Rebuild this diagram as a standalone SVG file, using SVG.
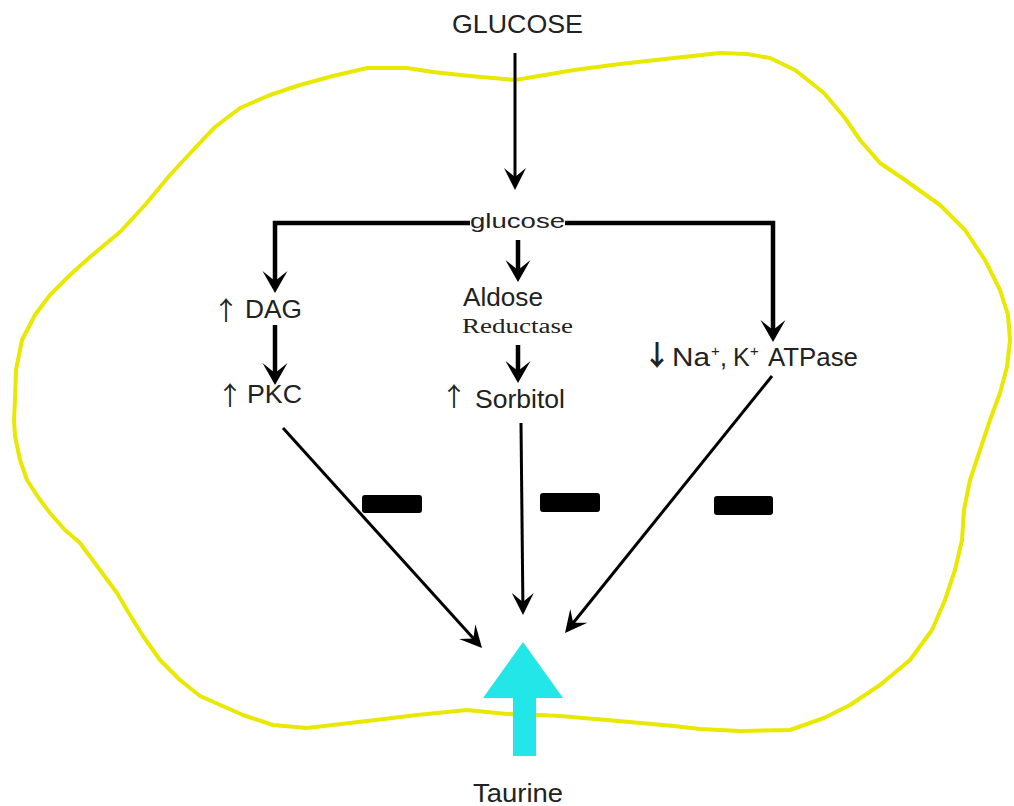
<svg xmlns="http://www.w3.org/2000/svg" width="1014" height="806" viewBox="0 0 1014 806">
<style>
.t{font-family:"Liberation Sans",Arial,sans-serif;fill:#222;}
.s{font-family:"Liberation Serif","Times New Roman",serif;fill:#222;}
.ar{font-family:"Noto Sans CJK JP","DejaVu Sans",sans-serif;fill:#222;}
.thick{stroke:#000;stroke-width:4.5;fill:none;marker-end:url(#ah);}
.thin{stroke:#000;stroke-width:3;fill:none;marker-end:url(#ahs);}
.minus{fill:#000;}
</style>
<defs>
<marker id="ah" markerUnits="userSpaceOnUse" viewBox="-24 -14 26 28" markerWidth="26" markerHeight="28" refX="-10" refY="0" orient="auto">
<path d="M0,0 L-22,-12.5 L-12,0 L-22,12.5 Z" fill="#000"/>
</marker>
<marker id="ahs" markerUnits="userSpaceOnUse" viewBox="-24 -14 26 28" markerWidth="26" markerHeight="28" refX="-10" refY="0" orient="auto">
<path d="M0,0 L-22,-11 L-13,0 L-22,11 Z" fill="#000"/>
</marker>
</defs>
<rect width="1014" height="806" fill="#fff"/>
<g id="cell">
<path d="M15,400 L16,370 L22,340 L35,315 L50,295 L70,275 L90,257 L120,232 L145,205 L170,175 L195,148 L215,127 L240,108 L270,95 L300,85 L333,76 L367,68 L407,68 L433,72 L470,76 L515,80 L545,75 L574,70 L620,64 L674,58 L720,53 L747,54 L770,58 L795,70 L824,93 L845,118 L860,140 L880,163 L905,180 L940,205 L965,230 L985,260 L1000,290 L1008,315 L1010,340 L1007,367 L1000,393 L990,420 L980,450 L970,480 L964,510 L962,540 L955,570 L945,600 L932,630 L910,660 L880,685 L850,705 L824,718 L790,730 L740,731 L700,729 L674,726 L607,720 L560,716 L540,715 L507,714 L467,710 L417,715 L367,721 L307,728 L273,725 L243,715 L200,696 L180,680 L160,660 L143,636 L130,615 L117,593 L100,570 L80,543 L65,530 L50,513 L38,497 L27,480 L20,460 L15,436 L14,420 Z" fill="none" stroke="#e8e800" stroke-width="4" stroke-linejoin="round"/>
</g>
<g id="connectors">
<line class="thin" x1="515" y1="53" x2="515" y2="180"/>
<path class="thick" d="M470,223 H275 V283"/>
<path class="thick" d="M565,223 H773 V332"/>
<line class="thick" x1="518" y1="240" x2="518" y2="272"/>
<line class="thick" x1="518" y1="345" x2="518" y2="373"/>
<line class="thick" x1="275" y1="325" x2="275" y2="375"/>
<line class="thin" x1="283" y1="428" x2="475.3" y2="640.6"/>
<line class="thin" x1="521" y1="423" x2="522.9" y2="605"/>
<line class="thin" x1="772" y1="376" x2="571.3" y2="625.2"/>
<rect class="minus" x="362" y="495" width="60" height="18" rx="3"/>
<rect class="minus" x="540" y="493" width="60" height="19" rx="3"/>
<rect class="minus" x="714" y="496" width="59" height="19" rx="3"/>
</g>
<g id="n-GLUCOSE"><text class="t" x="452" y="33" font-size="25" fill="#333" textLength="131" lengthAdjust="spacingAndGlyphs">GLUCOSE</text></g>
<g id="n-glucose"><text class="t" x="470" y="228" font-size="21" textLength="95" lengthAdjust="spacingAndGlyphs">glucose</text></g>
<g id="n-DAG"><text class="t" font-size="25"><tspan class="ar" x="213" y="320" font-size="26">↑ </tspan><tspan x="245" y="318" textLength="57" lengthAdjust="spacingAndGlyphs">DAG</tspan></text></g>
<g id="n-PKC"><text class="t" font-size="25"><tspan class="ar" x="217" y="405" font-size="26">↑ </tspan><tspan x="247" y="403" textLength="55" lengthAdjust="spacingAndGlyphs">PKC</tspan></text></g>
<g id="n-AR"><text class="t" x="463" y="306" font-size="25" textLength="80" lengthAdjust="spacingAndGlyphs">Aldose</text><text class="s" x="462" y="333" font-size="20" textLength="111" lengthAdjust="spacingAndGlyphs">Reductase</text></g>
<g id="n-Sorbitol"><text class="t" font-size="26"><tspan class="ar" x="441" y="406" font-size="26">↑ </tspan><tspan x="475" y="408" textLength="90" lengthAdjust="spacingAndGlyphs">Sorbitol</tspan></text></g>
<g id="n-ATPase"><text class="t" font-size="25" y="366"><tspan class="ar" x="643" y="366" font-size="28" font-weight="bold">↓</tspan><tspan x="672" y="366" textLength="38" lengthAdjust="spacingAndGlyphs">Na</tspan><tspan x="711" y="356" font-size="15">+</tspan><tspan x="720" y="366">,</tspan><tspan x="726" y="366"> K</tspan><tspan x="750" y="356" font-size="15">+ </tspan><tspan x="768" y="366" textLength="90" lengthAdjust="spacingAndGlyphs">ATPase</tspan></text></g>
<g id="n-Taurine">
<polygon points="523,642 563,698 536,698 536,756 513,756 513,698 483,698" fill="#22e6e8"/>
<text class="t" x="473" y="802" font-size="25" fill="#333" textLength="90" lengthAdjust="spacingAndGlyphs">Taurine</text>
</g>
</svg>
